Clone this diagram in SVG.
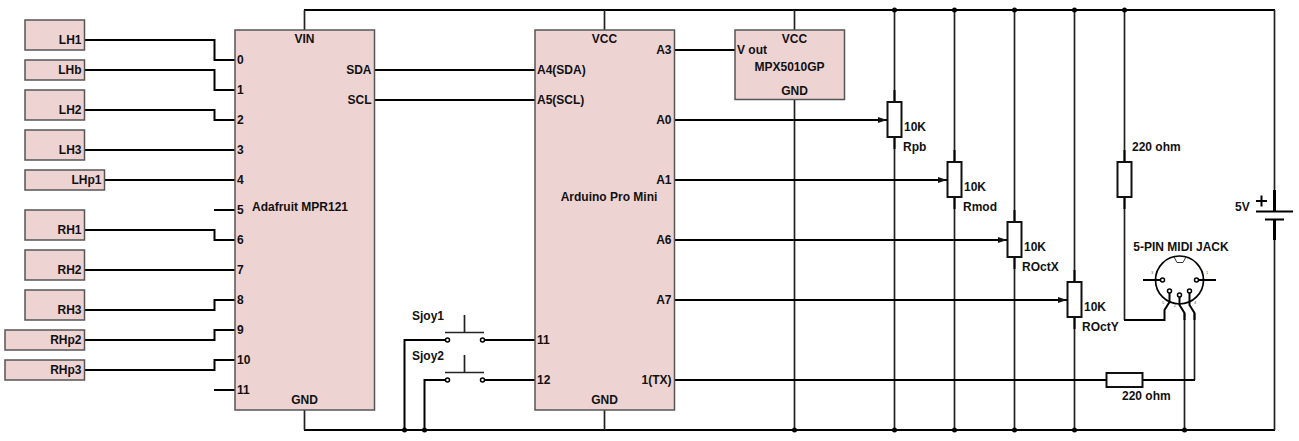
<svg xmlns="http://www.w3.org/2000/svg" width="1299" height="441" viewBox="0 0 1299 441">
<defs>
<style>
text{font-family:"Liberation Sans",Arial,sans-serif;font-size:12px;font-weight:bold;fill:#111}
.m{text-anchor:middle}.e{text-anchor:end}
.box{fill:#eed3d3;stroke:#555;stroke-width:1.5}
.w{fill:none;stroke:#000;stroke-width:2}
.g{fill:none;stroke:#222;stroke-width:1.7}
.k{fill:none;stroke:#000;stroke-width:3}
.r{fill:#fff;stroke:#111;stroke-width:2}
.d{fill:#000}
.o{fill:#fff;stroke:#000;stroke-width:1.5}
.t{font-size:4px;font-weight:normal;fill:#555}
</style>
<marker id="ah" markerWidth="10" markerHeight="8" refX="9" refY="3.500" orient="auto" markerUnits="userSpaceOnUse"><path d="M0 0.500L9 3.500L0 6.500Z" fill="#111"/></marker>
</defs>
<g id="connectors">
<path class="w" d="M84 40H214.500V60H235M84 70H214.500V90H235M84 110H214.500V120H235M84 150H235M104 180H235M214 210H235M84 230H214.500V240H235M84 270H235M84 310H214.500V300H235M84 340H214.500V330H235M84 370H214.500V360H235M214 390H235"/>
<path class="w" d="M304 10H1275M304 430H1275"/>
<path class="g" d="M304.500 30V10M304.500 410V430M604.500 10V30M604.500 410V430M794.500 10V30M794.500 99V430M894.500 10V102M894.500 137V430M954.500 10V162M954.500 197V430M1014.500 10V222M1014.500 257V430M1074.500 10V282M1074.500 317V430M1274.500 10V190M1274.500 240V430M1124.500 10V162M1124.500 197V320M1184.500 313V430M1194.500 313V380"/>
<path class="w" d="M894.500 90V102M894.500 137V149M954.500 150V162M954.500 197V209M1014.500 210V222M1014.500 257V269M1074.500 270V282M1074.500 317V329M1124.500 150V162M1124.500 197V209"/>
<path class="w" d="M374 70H535M374 100H535M674 50H735"/>
<path class="w" marker-end="url(#ah)" d="M674 120H887"/>
<path class="w" marker-end="url(#ah)" d="M674 180H947"/>
<path class="w" marker-end="url(#ah)" d="M674 240H1007"/>
<path class="w" marker-end="url(#ah)" d="M674 300H1067"/>
<path class="w" d="M674 380H1106M1143 380H1195"/>
<path class="w" d="M1124 320H1164.500V310L1169.500 302V291"/>
<path class="w" d="M1184.500 320V313L1179.500 305V295"/>
<path class="w" d="M1194.500 320V313L1189.500 305V291"/>
<path class="w" d="M404.500 430V340H446M483 340H535M424.500 430V380H446M483 380H535"/>
<path class="w" d="M1143 280H1163M1197 280H1216"/>
</g>
<g id="LH1"><rect class="box" x="25" y="20" width="59.500" height="30"/><text class="e" x="81.500" y="44">LH1</text></g>
<g id="LHb"><rect class="box" x="25" y="60" width="59.500" height="20"/><text class="e" x="81.500" y="74">LHb</text></g>
<g id="LH2"><rect class="box" x="25" y="90" width="59.500" height="30"/><text class="e" x="81.500" y="114">LH2</text></g>
<g id="LH3"><rect class="box" x="25" y="130" width="59.500" height="30"/><text class="e" x="81.500" y="154">LH3</text></g>
<g id="LHp1"><rect class="box" x="25" y="170" width="79.500" height="20"/><text class="e" x="101.500" y="184">LHp1</text></g>
<g id="RH1"><rect class="box" x="25" y="210" width="59.500" height="30"/><text class="e" x="81.500" y="234">RH1</text></g>
<g id="RH2"><rect class="box" x="25" y="250" width="59.500" height="30"/><text class="e" x="81.500" y="274">RH2</text></g>
<g id="RH3"><rect class="box" x="25" y="290" width="59.500" height="30"/><text class="e" x="81.500" y="314">RH3</text></g>
<g id="RHp2"><rect class="box" x="5" y="330" width="79.500" height="20"/><text class="e" x="81.500" y="344">RHp2</text></g>
<g id="RHp3"><rect class="box" x="5" y="360" width="79.500" height="20"/><text class="e" x="81.500" y="374">RHp3</text></g>
<g id="mpr121"><rect class="box" x="235" y="30" width="139.500" height="380"/>
<text class="m" x="304.500" y="43">VIN</text><text class="m" x="304.500" y="404">GND</text>
<text class="e" x="371.500" y="74">SDA</text><text class="e" x="371.500" y="104">SCL</text>
<text x="252" y="211">Adafruit MPR121</text>
<text x="237" y="64">0</text><text x="237" y="94">1</text><text x="237" y="124">2</text><text x="237" y="154">3</text><text x="237" y="184">4</text><text x="237" y="214">5</text><text x="237" y="244">6</text><text x="237" y="274">7</text><text x="237" y="304">8</text><text x="237" y="334">9</text><text x="237" y="364">10</text><text x="237" y="394">11</text></g>
<g id="arduino"><rect class="box" x="535" y="30" width="139.500" height="380"/>
<text class="m" x="604.500" y="43">VCC</text><text class="m" x="604.500" y="404">GND</text>
<text class="m" x="609" y="201">Arduino Pro Mini</text>
<text x="537" y="74">A4(SDA)</text><text x="537" y="104">A5(SCL)</text><text x="537" y="344">11</text><text x="537" y="384">12</text>
<text class="e" x="671.500" y="54">A3</text><text class="e" x="671.500" y="124">A0</text><text class="e" x="671.500" y="184">A1</text><text class="e" x="671.500" y="244">A6</text><text class="e" x="671.500" y="304">A7</text><text class="e" x="671.500" y="384">1(TX)</text></g>
<g id="mpx5010"><rect class="box" x="735" y="30" width="109.500" height="69.500"/>
<text class="m" x="794.500" y="43">VCC</text><text x="737" y="54">V out</text><text class="m" x="789.500" y="71">MPX5010GP</text><text class="m" x="794.500" y="95">GND</text></g>
<g id="Rpb"><rect class="r" x="887.500" y="102" width="14" height="35"/><text x="904" y="131">10K</text><text x="903" y="151">Rpb</text></g>
<g id="Rmod"><rect class="r" x="947.500" y="162" width="14" height="35"/><text x="964" y="191">10K</text><text x="963" y="211">Rmod</text></g>
<g id="ROctX"><rect class="r" x="1007.500" y="222" width="14" height="35"/><text x="1024" y="251">10K</text><text x="1022" y="271">ROctX</text></g>
<g id="ROctY"><rect class="r" x="1067.500" y="282" width="14" height="35"/><text x="1084" y="311">10K</text><text x="1082" y="331">ROctY</text></g>
<g id="R220a"><rect class="r" x="1117.500" y="162" width="14" height="35"/><text x="1132" y="151">220 ohm</text></g>
<g id="R220b"><rect class="r" x="1106.500" y="373" width="36" height="14"/><text x="1122" y="400">220 ohm</text></g>
<g id="Sjoy1"><path class="g" d="M464.500 315V332M445 332.500H484"/><circle class="o" cx="447.500" cy="340" r="2"/><circle class="o" cx="482.500" cy="340" r="2"/><text x="412" y="320">Sjoy1</text></g>
<g id="Sjoy2"><path class="g" d="M464.500 355V372M445 372.500H484"/><circle class="o" cx="447.500" cy="380" r="2"/><circle class="o" cx="482.500" cy="380" r="2"/><text x="412" y="360">Sjoy2</text></g>
<g id="midi"><circle cx="1179.500" cy="280" r="24" fill="none" stroke="#000" stroke-width="1.700"/>
<path d="M1174 257L1177 262.500H1183L1186 257" fill="none" stroke="#333" stroke-width="1"/>
<circle class="o" cx="1162.500" cy="280" r="2"/><circle class="o" cx="1196.500" cy="280" r="2"/><circle class="o" cx="1169.500" cy="291" r="2"/><circle class="o" cx="1179.500" cy="295" r="2"/><circle class="o" cx="1189.500" cy="291" r="2"/>
<text class="t" x="1151" y="274">3</text><text class="t" x="1206" y="274">1</text><text class="t" x="1162" y="304">5</text><text class="t" x="1174" y="307">2</text><text class="t" x="1194" y="304">4</text>
<text class="m" x="1181" y="251">5-PIN MIDI JACK</text></g>
<g id="battery"><path class="w" d="M1256 211.500H1293M1265 219.500H1284"/><path class="k" d="M1274.500 190V211M1274.500 220V240"/><text x="1235" y="211">5V</text><path class="w" stroke-width="1.500" d="M1256 201H1267M1261.500 195.500V206.500"/></g>
<g id="junctions" class="d"><circle cx="894.500" cy="10" r="2.500"/><circle cx="954.500" cy="10" r="2.500"/><circle cx="1014.500" cy="10" r="2.500"/><circle cx="1074.500" cy="10" r="2.500"/><circle cx="1124.500" cy="10" r="2.500"/><circle cx="404.500" cy="430" r="2.500"/><circle cx="424.500" cy="430" r="2.500"/><circle cx="794.500" cy="430" r="2.500"/><circle cx="894.500" cy="430" r="2.500"/><circle cx="954.500" cy="430" r="2.500"/><circle cx="1014.500" cy="430" r="2.500"/><circle cx="1074.500" cy="430" r="2.500"/><circle cx="1184.500" cy="430" r="2.500"/></g>
</svg>
